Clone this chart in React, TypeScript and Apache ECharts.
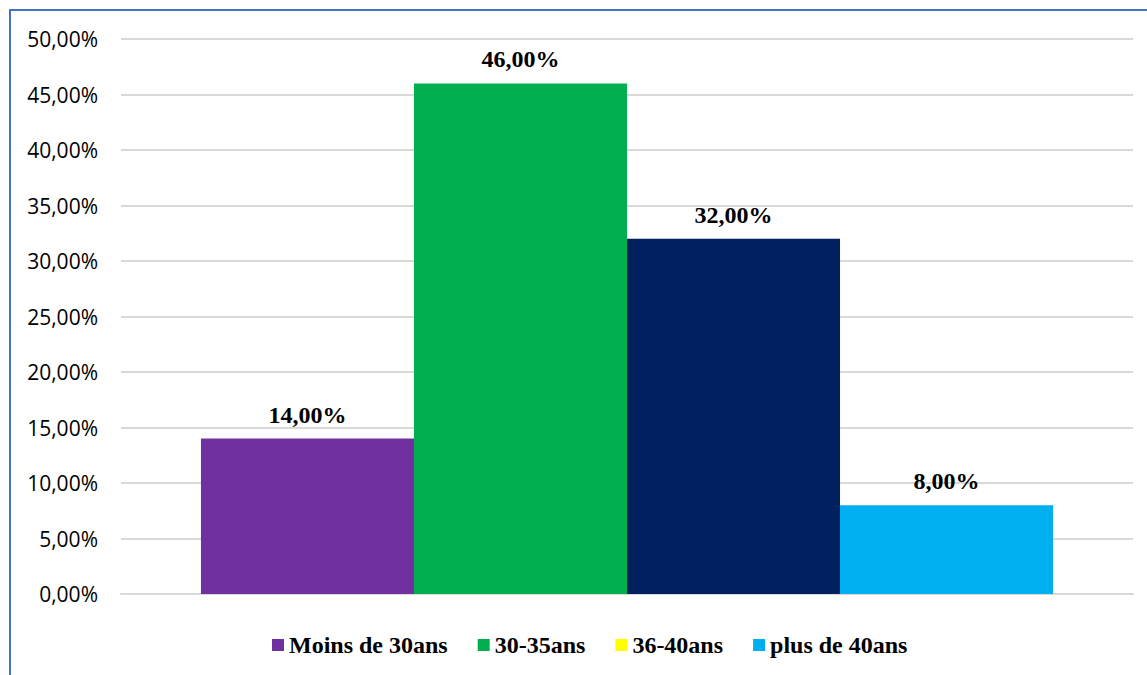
import React, { useEffect, useRef } from "react";
import * as echarts from "echarts";

const categories = [""];
const seriesNames = ["Moins de 30ans", "30-35ans", "36-40ans", "plus de 40ans"];
const seriesValues = [14, 46, 32, 8];
const legendColors = ["#7030A0", "#00B050", "#FFFF00", "#00B0F0"];
const barColors = ["#7030A0", "#00B050", "#002060", "#00B0F0"];

const fmt = (v: number) => v.toFixed(2).replace(".", ",") + "%";

export default function App() {
  const ref = useRef<HTMLDivElement>(null);
  useEffect(() => {
    const chart = echarts.init(ref.current!, null, { renderer: "svg" });
    chart.setOption({
      animation: false,
      backgroundColor: "#fff",
      graphic: [
        {
          type: "rect",
          shape: { x: 10, y: 10, width: 1300, height: 800 },
          style: { fill: "none", stroke: "#4472C4", lineWidth: 2 },
          silent: true,
        },
      ],
      grid: { left: 121, right: 14, top: 39, bottom: 81 },
      legend: {
        data: seriesNames,
        left: 272,
        top: 633,
        padding: 0,
        itemWidth: 12,
        itemHeight: 12,
        itemGap: 30,
        icon: "rect",
        textStyle: {
          fontFamily: "Liberation Serif",
          fontWeight: "bold",
          fontSize: 24,
          color: "#000",
        },
      },
      xAxis: {
        type: "category",
        data: categories,
        axisLine: { show: true, lineStyle: { color: "#d9d9d9", width: 2 } },
        axisTick: { show: false },
        axisLabel: { show: false },
      },
      yAxis: {
        type: "value",
        min: 0,
        max: 50,
        interval: 5,
        axisLine: { show: false },
        axisTick: { show: false },
        splitLine: { lineStyle: { color: "#d9d9d9", width: 2 } },
        axisLabel: {
          formatter: (v: number) => fmt(v),
          fontFamily: "Open Sans",
          fontSize: 21,
          color: "#000",
          margin: 23,
        },
      },
      series: seriesNames.map((name, i) => ({
        name,
        type: "bar",
        barGap: "0%",
        barCategoryGap: "15.8%",
        itemStyle: { color: legendColors[i] },
        data: [{ value: seriesValues[i], itemStyle: { color: barColors[i] } }],
        label: {
          show: true,
          position: "top",
          distance: 12,
          formatter: (p: any) => fmt(p.value),
          fontFamily: "Liberation Serif",
          fontWeight: "bold",
          fontSize: 24,
          color: "#000",
        },
      })),
    });
    return () => chart.dispose();
  }, []);
  return (
    <div
      ref={ref}
      style={{ position: "absolute", left: 0, top: 0, width: 1147, height: 675 }}
    />
  );
}
